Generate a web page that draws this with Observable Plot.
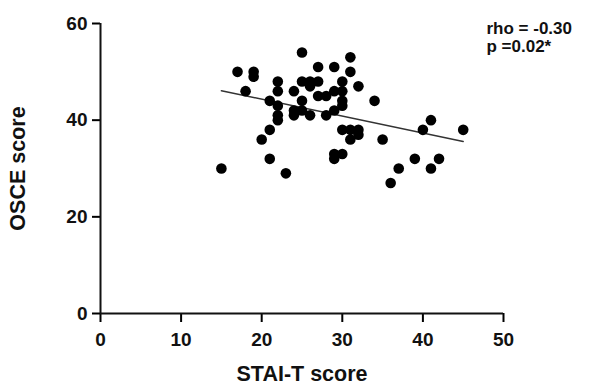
<!DOCTYPE html>
<html>
<head>
<meta charset="utf-8">
<script src="https://cdn.jsdelivr.net/npm/d3@7"></script>
<script src="https://cdn.jsdelivr.net/npm/@observablehq/plot@0.6"></script>
<style>
  html, body { margin: 0; padding: 0; background: #fff; }
  svg { font-family: "Liberation Sans", Arial, sans-serif; }
</style>
</head>
<body>
<div id="chart"></div>
<script>
// STAI-T score (x) and OSCE score (y) per student
const staiT = [15,17,18,19,19,20,21,21,21,22,22,22,22,22,23,24,24,24,25,25,25,25,26,26,26,27,27,27,28,28,29,29,29,29,29,30,30,30,30,30,30,31,31,31,31,32,32,32,34,35,36,37,39,40,41,41,42,45];
const osce  = [30,50,46,50,49,36,44,38,32,48,46,43,41,40,29,46,42,41,54,48,44,42,48,47,41,51,48,45,45,41,51,46,42,33,32,48,46,44,43,38,33,53,50,38,36,47,38,37,44,36,27,30,32,38,40,30,32,38];
// fitted line end points
const fitX = [15, 45];
const fitY = [46.1, 35.6];
const xTicks = [0, 10, 20, 30, 40, 50];
const yTicks = [0, 20, 40, 60];
const xLabel = "STAI-T score";
const yLabel = "OSCE score";
const statText = "rho = -0.30\np =0.02*";

const points = staiT.map((x, i) => ({x, y: osce[i]}));
const fit = fitX.map((x, i) => ({x, y: fitY[i]}));

const chart = Plot.plot({
  width: 590,
  height: 385,
  marginLeft: 100,
  marginRight: 87,
  marginTop: 23,
  marginBottom: 72,
  x: {domain: [0, 50]},
  y: {domain: [0, 60]},
  marks: [
    Plot.axisX({ticks: xTicks, tickSize: 9, tickPadding: 10, strokeWidth: 2, fontSize: 19, fontWeight: "bold", label: null, fill: "#111"}),
    Plot.axisY({ticks: yTicks, tickSize: 8, tickPadding: 5, strokeWidth: 2, fontSize: 19, fontWeight: "bold", label: null, fill: "#111"}),
    Plot.ruleY([0], {strokeWidth: 2, stroke: "#111"}),
    Plot.ruleX([0], {strokeWidth: 2, stroke: "#111"}),
    Plot.line(fit, {x: "x", y: "y", stroke: "#333", strokeWidth: 1.5}),
    Plot.dot(points, {x: "x", y: "y", r: 5.3, fill: "#000", stroke: "none"}),
    Plot.text([xLabel], {frameAnchor: "bottom", dy: 61, lineAnchor: "middle", textAnchor: "middle", fontSize: 21.5, fontWeight: "bold", fill: "#111"}),
    Plot.text([yLabel], {frameAnchor: "left", dx: -82, rotate: -90, lineAnchor: "middle", textAnchor: "middle", fontSize: 21.5, fontWeight: "bold", fill: "#111"}),
    Plot.text([statText], {frameAnchor: "top-right", dx: -17, dy: -2, textAnchor: "start", lineAnchor: "top", lineHeight: 1.05, fontSize: 17, fontWeight: "bold", fill: "#111"})
  ]
});
document.getElementById("chart").appendChild(chart);
</script>
</body>
</html>
